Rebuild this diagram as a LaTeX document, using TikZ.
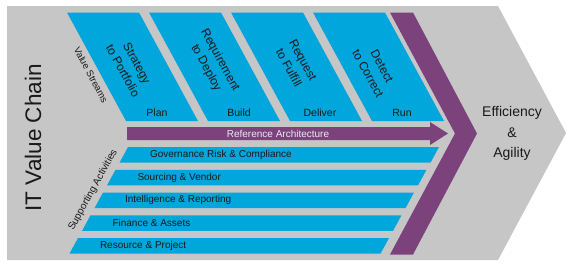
\documentclass[tikz,border=0pt]{standalone}
\usepackage{fontspec}
\setmainfont{Liberation Sans}
\definecolor{bggray}{RGB}{198,198,198}
\definecolor{vsblue}{RGB}{0,166,220}
\definecolor{purp}{RGB}{124,66,124}
\definecolor{textc}{RGB}{25,25,25}
\definecolor{lighttext}{RGB}{235,235,240}
\begin{document}
\begin{tikzpicture}[x=1pt,y=-1pt,
  txt/.style={inner sep=0pt, text=textc},
  vstext/.style={txt, align=center, rotate=-61.5, font=\fontsize{12}{16}\selectfont},
  steplabel/.style={txt, font=\fontsize{10.5}{12}\selectfont},
  bartext/.style={txt, anchor=west, font=\fontsize{10}{12}\selectfont},
  sidetext/.style={txt, font=\fontsize{10}{12}\selectfont}]
\useasboundingbox (0,0) rectangle (580,273);
% background chevron
\fill[bggray] (7,6) -- (498,6) -- (566,133) -- (498,260) -- (7,260) -- cycle;
% value stream parallelograms
\foreach \i in {0,...,3}{
  \pgfmathsetmacro\xa{67+82*\i}
  \fill[vsblue] (\xa,12.5) -- ++(72,0) -- ++(59,108.5) -- ++(-72,0) -- cycle;
}
% reference architecture arrow
\fill[purp] (127,127) -- (430,127) -- (430,122) -- (448,133.5) -- (430,145) -- (430,140) -- (127,140) -- cycle;
% purple chevron
\fill[purp] (390,12.5) -- (413,12.5) -- (477,133.5) -- (413,254.5) -- (390,254.5) -- (455,133.5) -- cycle;
% supporting activity bars
\foreach \i/\t in {0/Governance Risk \& Compliance,1/Sourcing \& Vendor,2/Intelligence \& Reporting,3/Finance \& Assets,4/Resource \& Project}{
  \pgfmathsetmacro\yt{147+22.75*\i}
  \pgfmathsetmacro\yb{\yt+15.5}
  \pgfmathsetmacro\xl{128-12.5*\i}
  \pgfmathsetmacro\xr{439-12.5*\i}
  \fill[vsblue] (\xl,\yt) -- (\xr,\yt) -- ({\xr-8.4},\yb) -- ({\xl-8.4},\yb) -- cycle;
  \node[bartext] (bar\i) at ({\xl-4.2+26},{\yt+7.75}) {\t};
}
% value stream texts
\node[vstext] (vs1) at (130,67) {Strategy\\to Portfolio};
\node[vstext] (vs2) at (213,64) {Requirement\\to Deploy};
\node[vstext] (vs3) at (296,64) {Request\\to Fulfill};
\node[vstext] (vs4) at (375,70) {Detect\\to Correct};
\node[steplabel] (plan) at (157,113) {Plan};
\node[steplabel] (build) at (239,113) {Build};
\node[steplabel] (deliver) at (320,113) {Deliver};
\node[steplabel] (run) at (402,113) {Run};
% side labels
\node[sidetext, rotate=-62, font=\fontsize{9.5}{11}\selectfont] (vslabel) at (91,75) {Value Streams};
\node[sidetext, rotate=61] (salabel) at (93,190) {Supporting Activities};
\node[txt, rotate=90, anchor=base, font=\fontsize{22.5}{26}\selectfont] (title) at (41,138) {IT Value Chain};
\node[txt, text=lighttext, font=\fontsize{10}{12}\selectfont] (refarch) at (278,133.5) {Reference Architecture};
\node[txt, align=center, font=\fontsize{14}{20.5}\selectfont] (eff) at (512,133.5) {Efficiency\\\&\\Agility};
\end{tikzpicture}
\end{document}
